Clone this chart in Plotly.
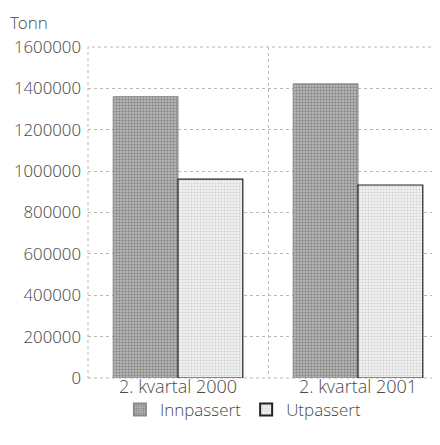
import plotly.graph_objects as go

categories = ["2. kvartal 2000", "2. kvartal 2001"]
innpassert = [1360000, 1422000]
utpassert = [961000, 933000]
y_ticks = [0, 200000, 400000, 600000, 800000, 1000000, 1200000, 1400000, 1600000]

FAM = "Open Sans Light, Lato Light, Open Sans, sans-serif"
GRID = "#b8b8b8"
TXT = "#4a4a4a"

fig = go.Figure()
fig.add_trace(go.Bar(
    name="Innpassert", x=categories, y=innpassert,
    marker=dict(color="#c0c0c0", line=dict(color="#8a8a8a", width=1),
                pattern=dict(shape=".", fgcolor="#505050", size=3, solidity=0.5)),
))
fig.add_trace(go.Bar(
    name="Utpassert", x=categories, y=utpassert,
    marker=dict(color="#f2f2f2", line=dict(color="#222222", width=1.2),
                pattern=dict(shape=".", fgcolor="#b4b4b4", size=3, solidity=0.4)),
))

yfont = dict(family=FAM, size=16.8, color=TXT, weight=300)
xfont = dict(family=FAM, size=18, color=TXT, weight=300)

# page has an 8px body margin; plot area in page coords: x 88-448, y 47-378
L, T, R, B = 80, 39, 0, 75
plot_h = 445 - T - B

fig.update_layout(
    width=440, height=445,
    margin=dict(l=L, r=R, t=T, b=B, autoexpand=False),
    paper_bgcolor="white", plot_bgcolor="white",
    barmode="group", bargap=0.28, bargroupgap=0,
    font=yfont,
    showlegend=True,
    legend=dict(orientation="h", xref="container", yref="container",
                x=0.535, xanchor="center", y=1 - 402 / 445, yanchor="middle",
                bgcolor="rgba(0,0,0,0)",
                font=dict(family=FAM, size=17, color=TXT, weight=300),
                itemwidth=30, itemsizing="constant"),
    annotations=[dict(text="Tonn", xref="paper", yref="paper", x=-L / (440 - L - R),
                      y=1 + 25 / plot_h, xanchor="left", yanchor="middle", showarrow=False,
                      font=dict(family=FAM, size=17, color=TXT, weight=300))],
    shapes=[dict(type="rect", xref="paper", yref="paper", x0=0, x1=1, y0=0, y1=1,
                 line=dict(color=GRID, width=1, dash="dot"), layer="below")],
)
fig.update_xaxes(
    type="category", tickson="boundaries", showgrid=True, gridcolor=GRID,
    griddash="dot", gridwidth=1, ticks="", showline=False, zeroline=False,
    tickfont=xfont, automargin=False, ticklabelstandoff=-4,
)
fig.update_yaxes(
    range=[0, 1600000], tickvals=y_ticks, ticktext=[str(v) for v in y_ticks],
    showgrid=True, gridcolor=GRID, griddash="dot", gridwidth=1,
    zeroline=False, showline=False, ticks="", tickfont=yfont, ticklabelstandoff=6,
    automargin=False,
)

fig.write_html("out.html")
